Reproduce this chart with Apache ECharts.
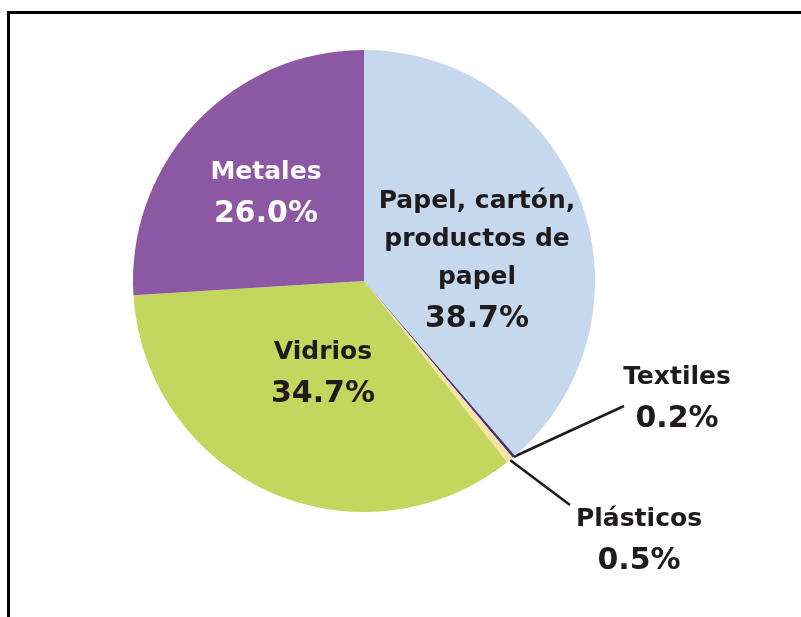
<!DOCTYPE html>
<html>
<head>
<meta charset="utf-8">
<script src="https://cdn.jsdelivr.net/npm/echarts@6/dist/echarts.min.js"></script>
<style>
  html, body { margin: 0; padding: 0; background: #fff; overflow: hidden; }
  #frame { position: absolute; left: 7px; top: 11px; width: 1000px; height: 1000px; border: 3px solid #000; box-sizing: border-box; }
  #chart { position: absolute; left: 0; top: 0; width: 801px; height: 617px; }
</style>
</head>
<body>
<div id="frame"></div>
<div id="chart"></div>
<script>
// ---- data ----
const categories = ['Papel, cartón,\nproductos de\npapel', 'Textiles', 'Plásticos', 'Vidrios', 'Metales'];
const values = [38.7, 0.2, 0.5, 34.7, 26.0];
const valueLabels = ['38.7%', '0.2%', '0.5%', '34.7%', '26.0%'];
const colors = ['#c5d8ee', '#4a2f7e', '#f6e4a2', '#c3d65e', '#8c58a4'];

// ---- layout (positions/styles only) ----
const labelPos = [[477, 262], [677, 400], [639, 542], [323, 375], [266, 195]];
const lineEnds = [null, [624, 406], [570, 505], null, null];
const textColor = ['#1f1b1c', '#1f1b1c', '#1f1b1c', '#1f1b1c', '#ffffff'];

const chart = echarts.init(document.getElementById('chart'), null, { renderer: 'canvas' });

const data = categories.map((c, i) => ({
  name: c,
  value: values[i],
  itemStyle: { color: colors[i] },
  label: {
    show: true,
    position: (i === 1 || i === 2) ? 'outside' : 'inside',
    formatter: '{n|' + c + '}\n{v|' + valueLabels[i] + '}',
    rich: {
      n: { fontFamily: 'DejaVu Sans', fontWeight: 'bold', fontSize: 25, lineHeight: 38, color: textColor[i], align: 'center' },
      v: { fontFamily: 'DejaVu Sans', fontWeight: 'bold', fontSize: 30, lineHeight: 45, color: textColor[i], align: 'center' }
    }
  },
  labelLine: { show: (i === 1 || i === 2), length: 10, length2: 0, lineStyle: { color: '#1f1b1c', width: 2.5 } }
}));

chart.setOption({
  animation: false,
  series: [{
    type: 'pie',
    center: [364, 281],
    radius: [0, 231],
    startAngle: 90,
    clockwise: true,
    avoidLabelOverlap: false,
    data: data,
    labelLayout: function (params) {
      const i = params.dataIndex;
      const out = { x: labelPos[i][0], y: labelPos[i][1], align: 'center', verticalAlign: 'middle' };
      if (lineEnds[i] && params.labelLinePoints && params.labelLinePoints.length) {
        const p0 = params.labelLinePoints[0];
        out.labelLinePoints = [p0, lineEnds[i], lineEnds[i]];
      }
      return out;
    }
  }]
});
</script>
</body>
</html>
